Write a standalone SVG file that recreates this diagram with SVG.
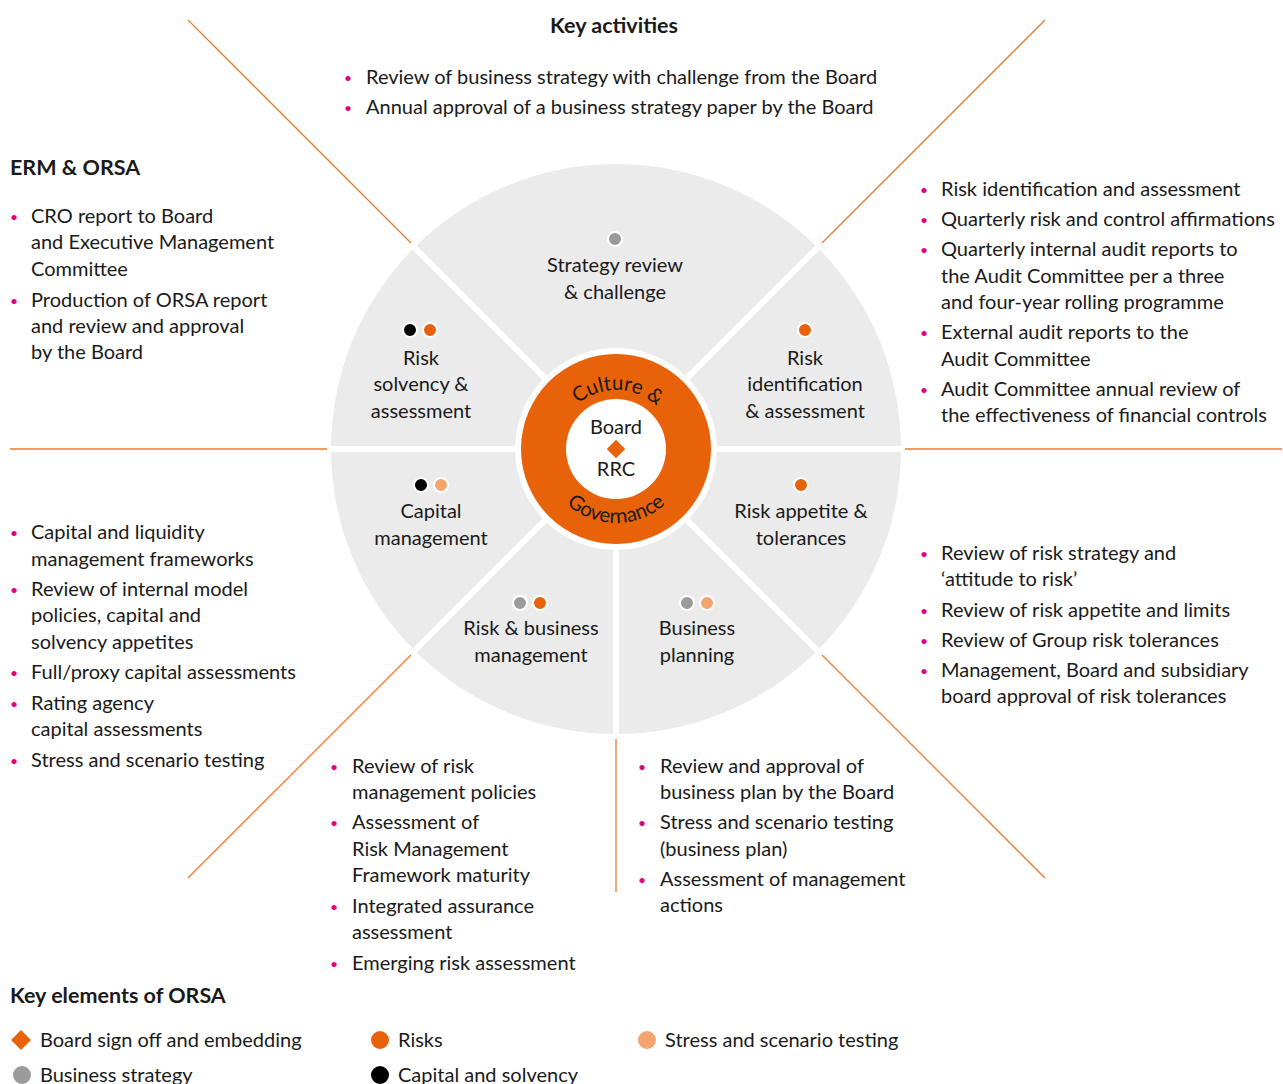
<svg xmlns="http://www.w3.org/2000/svg" width="1283" height="1084" viewBox="0 0 1283 1084">
<defs>
<style>
text{font-family:"Lato","Liberation Sans",sans-serif;font-size:20px;fill:#1a1a1a}
.h{font-weight:bold;font-size:21.5px}
.c{text-anchor:middle}
.b{fill:#e5007d;font-size:14px}
.ring{fill:#1a1a1a;font-size:20.5px}
.sep{stroke:#ffffff;stroke-width:6}
.ol{stroke:#ee7a32;stroke-width:1.3;fill:none}
.dot{stroke:#ffffff;stroke-width:2}
</style>
<path id="arcTop" d="M 557 449 A 59 59 0 0 1 675 449"/>
<path id="arcBot" d="M 542 449 A 74 74 0 0 0 690 449"/>
</defs>
<rect width="1283" height="1084" fill="#ffffff"/>

<g id="dividers">
<line class="ol" x1="188" y1="20" x2="411" y2="243"/>
<line class="ol" x1="1045" y1="20" x2="822" y2="243"/>
<line class="ol" x1="10" y1="449" x2="327" y2="449"/>
<line class="ol" x1="905" y1="449" x2="1282" y2="449"/>
<line class="ol" x1="411" y1="655" x2="188" y2="878"/>
<line class="ol" x1="822" y1="655" x2="1045" y2="878"/>
<line class="ol" x1="616" y1="739" x2="616" y2="892"/>
</g>

<g id="wheel">
<circle cx="616" cy="449" r="285" fill="#ebebeb"/>
<line class="sep" x1="328" y1="449" x2="904" y2="449"/>
<line class="sep" x1="412" y1="245" x2="820" y2="653"/>
<line class="sep" x1="820" y1="245" x2="412" y2="653"/>
<line class="sep" x1="616" y1="449" x2="616" y2="736"/>
<circle cx="616" cy="449" r="101" fill="#ffffff"/>
</g>

<g id="centre">
<circle cx="616" cy="449" r="95" fill="#e8620a"/>
<circle cx="616" cy="449" r="50" fill="#ffffff"/>
<text class="ring"><textPath href="#arcTop" startOffset="51%" text-anchor="middle">Culture &amp;</textPath></text>
<text class="ring"><textPath href="#arcBot" startOffset="50%" text-anchor="middle">Governance</textPath></text>
<text class="c" x="616" y="434">Board</text>
<rect x="609.5" y="442.5" width="13" height="13" fill="#e8620a" transform="rotate(45 616 449)"/>
<text class="c" x="616" y="476">RRC</text>
</g>

<g id="node-strategy">
<circle class="dot" cx="615" cy="239" r="7" fill="#9b9b9b"/>
<text class="c" x="615" y="272">Strategy review</text>
<text class="c" x="615" y="299">&amp; challenge</text>
</g>
<g id="node-risk-solvency">
<circle class="dot" cx="410" cy="330" r="7" fill="#000000"/>
<circle class="dot" cx="430" cy="330" r="7" fill="#e8620a"/>
<text class="c" x="421" y="365">Risk</text>
<text class="c" x="421" y="391">solvency &amp;</text>
<text class="c" x="421" y="418">assessment</text>
</g>
<g id="node-risk-identification">
<circle class="dot" cx="805" cy="330" r="7" fill="#e8620a"/>
<text class="c" x="805" y="365">Risk</text>
<text class="c" x="805" y="391">identification</text>
<text class="c" x="805" y="418">&amp; assessment</text>
</g>
<g id="node-capital">
<circle class="dot" cx="421" cy="485" r="7" fill="#000000"/>
<circle class="dot" cx="441" cy="485" r="7" fill="#f4a46e"/>
<text class="c" x="431" y="518">Capital</text>
<text class="c" x="431" y="545">management</text>
</g>
<g id="node-risk-appetite">
<circle class="dot" cx="801" cy="485" r="7" fill="#e8620a"/>
<text class="c" x="801" y="518">Risk appetite &amp;</text>
<text class="c" x="801" y="545">tolerances</text>
</g>
<g id="node-risk-business">
<circle class="dot" cx="520" cy="603" r="7" fill="#9b9b9b"/>
<circle class="dot" cx="540" cy="603" r="7" fill="#e8620a"/>
<text class="c" x="531" y="635">Risk &amp; business</text>
<text class="c" x="531" y="662">management</text>
</g>
<g id="node-business-planning">
<circle class="dot" cx="687" cy="603" r="7" fill="#9b9b9b"/>
<circle class="dot" cx="707" cy="603" r="7" fill="#f4a46e"/>
<text class="c" x="697" y="635">Business</text>
<text class="c" x="697" y="662">planning</text>
</g>

<g id="key-activities">
<text class="h c" x="614" y="33">Key activities</text>
<text class="b" x="344" y="83">•</text><text x="366" y="84">Review of business strategy with challenge from the Board</text>
<text class="b" x="344" y="113">•</text><text x="366" y="114">Annual approval of a business strategy paper by the Board</text>
</g>

<g id="erm-orsa">
<text class="h" x="10" y="175">ERM &amp; ORSA</text>
<text class="b" x="10" y="222">•</text><text x="31" y="223">CRO report to Board</text>
<text x="31" y="249">and Executive Management</text>
<text x="31" y="276">Committee</text>
<text class="b" x="10" y="306">•</text><text x="31" y="307">Production of ORSA report</text>
<text x="31" y="333">and review and approval</text>
<text x="31" y="359">by the Board</text>
</g>

<g id="risk-identification-list">
<text class="b" x="920" y="195">•</text><text x="941" y="196">Risk identification and assessment</text>
<text class="b" x="920" y="225">•</text><text x="941" y="226">Quarterly risk and control affirmations</text>
<text class="b" x="920" y="255">•</text><text x="941" y="256">Quarterly internal audit reports to</text>
<text x="941" y="283">the Audit Committee per a three</text>
<text x="941" y="309">and four-year rolling programme</text>
<text class="b" x="920" y="338">•</text><text x="941" y="339">External audit reports to the</text>
<text x="941" y="366">Audit Committee</text>
<text class="b" x="920" y="395">•</text><text x="941" y="396">Audit Committee annual review of</text>
<text x="941" y="422">the effectiveness of financial controls</text>
</g>

<g id="capital-list">
<text class="b" x="10" y="538">•</text><text x="31" y="539">Capital and liquidity</text>
<text x="31" y="566">management frameworks</text>
<text class="b" x="10" y="595">•</text><text x="31" y="596">Review of internal model</text>
<text x="31" y="622">policies, capital and</text>
<text x="31" y="649">solvency appetites</text>
<text class="b" x="10" y="678">•</text><text x="31" y="679">Full/proxy capital assessments</text>
<text class="b" x="10" y="709">•</text><text x="31" y="710">Rating agency</text>
<text x="31" y="736">capital assessments</text>
<text class="b" x="10" y="766">•</text><text x="31" y="767">Stress and scenario testing</text>
</g>

<g id="risk-appetite-list">
<text class="b" x="920" y="559">•</text><text x="941" y="560">Review of risk strategy and</text>
<text x="941" y="586">‘attitude to risk’</text>
<text class="b" x="920" y="616">•</text><text x="941" y="617">Review of risk appetite and limits</text>
<text class="b" x="920" y="646">•</text><text x="941" y="647">Review of Group risk tolerances</text>
<text class="b" x="920" y="676">•</text><text x="941" y="677">Management, Board and subsidiary</text>
<text x="941" y="703">board approval of risk tolerances</text>
</g>

<g id="risk-business-list">
<text class="b" x="330" y="772">•</text><text x="352" y="773">Review of risk</text>
<text x="352" y="799">management policies</text>
<text class="b" x="330" y="828">•</text><text x="352" y="829">Assessment of</text>
<text x="352" y="856">Risk Management</text>
<text x="352" y="882">Framework maturity</text>
<text class="b" x="330" y="912">•</text><text x="352" y="913">Integrated assurance</text>
<text x="352" y="939">assessment</text>
<text class="b" x="330" y="969">•</text><text x="352" y="970">Emerging risk assessment</text>
</g>

<g id="business-planning-list">
<text class="b" x="638" y="772">•</text><text x="660" y="773">Review and approval of</text>
<text x="660" y="799">business plan by the Board</text>
<text class="b" x="638" y="828">•</text><text x="660" y="829">Stress and scenario testing</text>
<text x="660" y="856">(business plan)</text>
<text class="b" x="638" y="885">•</text><text x="660" y="886">Assessment of management</text>
<text x="660" y="912">actions</text>
</g>

<g id="legend">
<text class="h" x="10" y="1003">Key elements of ORSA</text>
<rect x="14" y="1033" width="14" height="14" fill="#e8620a" transform="rotate(45 21 1040)"/>
<text x="40" y="1047">Board sign off and embedding</text>
<circle cx="380" cy="1040" r="9" fill="#e8620a"/>
<text x="398" y="1047">Risks</text>
<circle cx="647" cy="1040" r="9" fill="#f4a46e"/>
<text x="665" y="1047">Stress and scenario testing</text>
<circle cx="22" cy="1075" r="9" fill="#9b9b9b"/>
<text x="40" y="1082">Business strategy</text>
<circle cx="380" cy="1075" r="9" fill="#000000"/>
<text x="398" y="1082">Capital and solvency</text>
</g>
</svg>
